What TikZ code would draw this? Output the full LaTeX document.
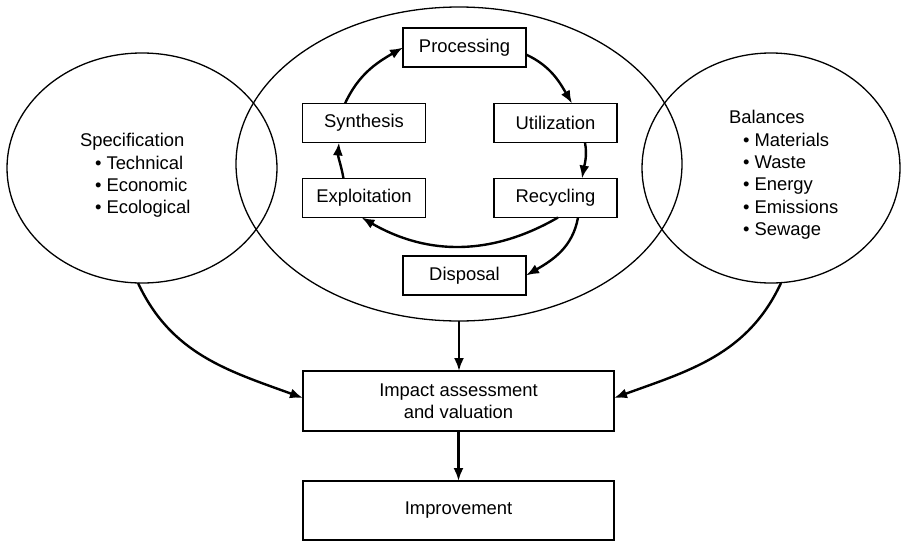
\documentclass[tikz,border=0pt]{standalone}
\usepackage{fontspec}
\setmainfont{Liberation Sans}
\usepackage{tikz}
\usetikzlibrary{arrows.meta,positioning,shapes}

\begin{document}
\begin{tikzpicture}[x=1pt,y=-1pt,% one unit is one pixel of the page, y going down
	every node/.style={
		align=center,  		% use this so that the "\\" for line break works
		font=\fontsize{18.4}{22.4}\selectfont,
		inner sep=0pt,outer sep=0pt
		},
	box/.style={rectangle,draw=black,line width=1.3pt,minimum width=123pt,minimum height=39pt},
	widebox/.style={rectangle,draw=black,line width=1.3pt,minimum width=311pt},
	oval/.style={ellipse,draw=black,line width=1.3pt},
	every edge/.style={draw,line width=2.4pt},
	>={Latex[length=13pt,width=10pt]}
	]
	\useasboundingbox (0,0) rectangle (902,541);
	% the three ovals
	\node[oval,minimum width=270pt,minimum height=230pt](Spec) at (142,168) {};
	\node[oval,minimum width=446pt,minimum height=314pt](Cycle) at (459,164) {};
	\node[oval,minimum width=258pt,minimum height=230pt](Bal) at (771,168) {};
	\node[anchor=west,align=left](SpecText) at (80,175.5) {Specification\\\hspace*{15pt}• Technical\\\hspace*{15pt}• Economic\\\hspace*{15pt}• Ecological};
	\node[anchor=west,align=left](BalText) at (729,175) {Balances\\\hspace*{14pt}• Materials\\\hspace*{14pt}• Waste\\\hspace*{14pt}• Energy\\\hspace*{14pt}• Emissions\\\hspace*{14pt}• Sewage};
	% the life cycle
	\node[box](Proc) at (464.5,47.5) {Processing};
	\node[box](Synth) at (364,123) {Synthesis};
	\node[box](Util) at (555.5,123) {Utilization};
	\node[box](Expl)[below=36pt of Synth]{Exploitation};
	\node[box](Recy)[below=36pt of Util]{Recycling};
	\node[box](Disp) at (464.5,275.5) {Disposal};
	% assessment
	\node[widebox,minimum height=60pt](Impact) at (458.5,401) {Impact assessment\\and valuation};
	\node[widebox,minimum height=59pt](Impr)[below=50pt of Impact]{Improvement};
	\path[->]
	([xshift=-19pt]Synth.north)edge [out=65,in=210] (Proc.west)
	([yshift=-7pt]Proc.east)edge [out=-25,in=120] ([xshift=16.5pt]Util.north)
	([xshift=29.5pt]Util.south)edge [out=-80,in=80] ([xshift=26.5pt]Recy.north)
	([xshift=2.5pt]Recy.south)edge [out=-150,in=-30] ([xshift=-2.5pt]Expl.south)
	([xshift=-20.5pt]Expl.north)edge [out=100,in=-95] ([xshift=-25pt]Synth.south)
	([xshift=22.5pt]Recy.south)edge [out=-100,in=30] (Disp.east)
	(Cycle.south)edge [] (Cycle.south |- Impact.north)
	([xshift=-4pt]Spec.south)edge [out=-65,in=160] ([yshift=3pt]Impact.west)
	([xshift=10pt]Bal.south)edge [out=-115,in=20] ([yshift=3pt]Impact.east)
	(Impact.south)edge [] (Impact.south |- Impr.north)
	;
\end{tikzpicture}
\end{document}
